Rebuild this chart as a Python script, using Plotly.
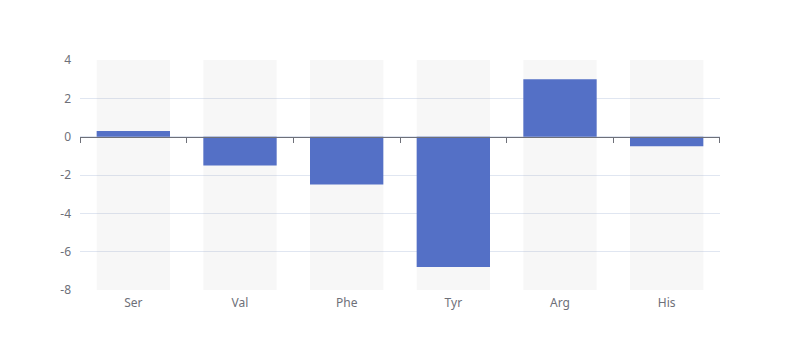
import plotly.graph_objects as go

categories = ["Ser", "Val", "Phe", "Tyr", "Arg", "His"]
values = [0.3, -1.5, -2.5, -6.8, 3.0, -0.5]
y_min, y_max = -8, 4
y_ticks = [4, 2, 0, -2, -4, -6, -8]
y_tick_labels = ["4", "2", "0", "-2", "-4", "-6", "-8"]

n = len(categories)
fig = go.Figure()
# background shadow bars
fig.add_trace(go.Bar(
    x=categories, y=[y_max - y_min] * n, base=[y_min] * n,
    marker=dict(color="rgba(180,180,180,0.1)", line=dict(width=0)),
    hoverinfo="skip", showlegend=False,
))
fig.add_trace(go.Bar(
    x=categories, y=values,
    marker=dict(color="#5470C6", line=dict(width=0)),
    showlegend=False,
))
# invisible trace on second x axis for the zero axis line
fig.add_trace(go.Scatter(x=list(range(n)), y=[0] * n, xaxis="x2",
                         mode="markers", marker=dict(opacity=0), hoverinfo="skip",
                         showlegend=False))

font = "Noto Sans"
eps = 1e-4
fig.update_layout(
    width=800, height=360,
    margin=dict(l=72, r=88, t=52, b=78),
    paper_bgcolor="white", plot_bgcolor="white",
    barmode="overlay", bargap=0.3125,
    font=dict(family=font, size=12, color="#6E7079"),
    xaxis=dict(
        type="category", categoryarray=categories, showgrid=False, zeroline=False,
        showline=False, ticks="", tickfont=dict(size=12, color="#6E7079"),
        ticklabelstandoff=4,
    ),
    xaxis2=dict(
        type="linear", range=[-0.5 - eps, n - 0.5 + eps], overlaying="x", anchor="free",
        position=(0 - y_min) / (y_max - y_min), side="bottom",
        showline=True, linecolor="#6E7079", linewidth=1,
        ticks="outside", tickvals=[i - 0.5 for i in range(n + 1)], ticklen=5,
        tickcolor="#6E7079", tickwidth=1,
        showticklabels=False, showgrid=False, zeroline=False,
    ),
    yaxis=dict(
        range=[y_min, y_max], tickvals=y_ticks, ticktext=y_tick_labels,
        showgrid=True, gridcolor="#E0E6F1",
        gridwidth=1, zeroline=False, showline=False, ticks="",
        tickfont=dict(size=12, color="#6E7079"), ticklabelstandoff=8,
    ),
)

fig.write_html("out.html")
